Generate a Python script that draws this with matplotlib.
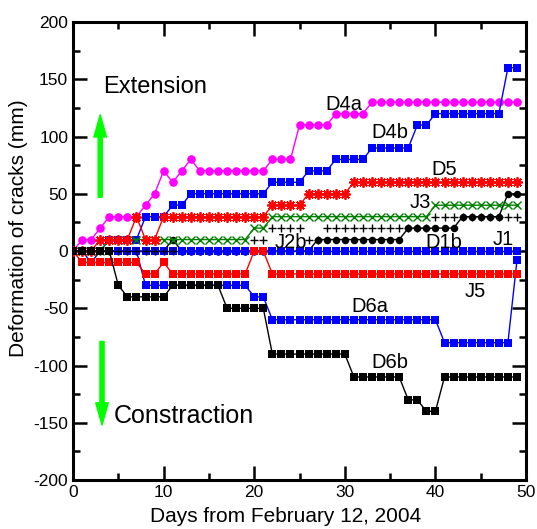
import matplotlib
matplotlib.use("Agg")
import matplotlib.pyplot as plt
from matplotlib.ticker import MultipleLocator
import numpy as np

plt.rcParams['font.family'] = ['Liberation Sans', 'DejaVu Sans']
plt.rcParams['axes.unicode_minus'] = False

days = np.arange(50)

# crack deformation (mm), one value per day
d4a = [0, 10, 10, 20, 30, 30, 30, 30, 40, 50,
       70, 60, 70, 80, 70, 70, 70, 70, 70, 70,
       70, 70, 80, 80, 80, 110, 110, 110, 110, 120,
       120, 120, 120, 130, 130, 130, 130, 130, 130, 130,
       130, 130, 130, 130, 130, 130, 130, 130, 130, 130]
d4b = [0, 0, 0, 0, 10, 10, 10, 10, 30, 30,
       30, 40, 40, 50, 50, 50, 50, 50, 50, 50,
       50, 50, 60, 60, 60, 60, 70, 70, 70, 80,
       80, 80, 80, 90, 90, 90, 90, 90, 110, 110,
       120, 120, 120, 120, 120, 120, 120, 120, 160, 160]
d5 = [0, 0, 0, 10, 10, 10, 10, 30, 10, 10,
      30, 30, 30, 30, 30, 30, 30, 30, 30, 30,
      30, 30, 40, 40, 40, 40, 50, 50, 50, 50,
      50, 60, 60, 60, 60, 60, 60, 60, 60, 60,
      60, 60, 60, 60, 60, 60, 60, 60, 60, 60]
j3 = [0, 0, 0, 0, 10, 10, 10, 10, 10, 10,
      10, 10, 10, 10, 10, 10, 10, 10, 10, 10,
      20, 20, 30, 30, 30, 30, 30, 30, 30, 30,
      30, 30, 30, 30, 30, 30, 30, 30, 30, 30,
      40, 40, 40, 40, 40, 40, 40, 40, 40, 40]
j2b = [0, 0, 0, 0, 0, 0, 0, 0, 0, 0,
       0, 0, 0, 0, 0, 0, 0, 0, 0, 0,
       10, 10, 20, 20, 20, 20, 10, 10, 20, 20,
       20, 20, 20, 20, 20, 20, 20, 20, 20, 20,
       30, 30, 30, 30, 30, 30, 30, 30, 30, 30]
d1b = [0, 0, 0, 0, 0, 0, 0, 0, 0, 0,
       0, 10, 0, 0, 0, 0, 0, 0, 0, 0,
       0, 0, 0, 0, 0, 0, 0, 10, 10, 10,
       10, 10, 10, 10, 10, 10, 10, 20, 20, 20,
       20, 20, 20, 30, 30, 30, 30, 30, 50, 50]
j1 = [0] * 50
d1a_days = [12, 13, 14, 15, 16, 17, 18, 19, 20, 21]
d1a = [0, 0, 0, 0, 0, 0, 0, 0, 0, 0]
j5 = [0, -10, -10, -10, -10, -10, -10, -10, -20, -20,
      -10, -20, -20, -20, -20, -20, -20, -20, -20, -20,
      0, 0, -20, -20, -20, -20, -20, -20, -20, -20,
      -20, -20, -20, -20, -20, -20, -20, -20, -20, -20,
      -20, -20, -20, -20, -20, -20, -20, -20, -20, -20]
d6a = [0, 0, -10, 0, 0, 0, 0, 0, -30, -30,
       -30, -30, -30, -30, -30, -30, -30, -30, -30, -30,
       -40, -40, -60, -60, -60, -60, -60, -60, -60, -60,
       -60, -60, -60, -60, -60, -60, -60, -60, -60, -60,
       -60, -80, -80, -80, -80, -80, -80, -80, -80, -8]
d6b = [0, 0, 0, 0, 0, -30, -40, -40, -40, -40,
       -40, -30, -30, -30, -30, -30, -30, -50, -50, -50,
       -50, -50, -90, -90, -90, -90, -90, -90, -90, -90,
       -90, -110, -110, -110, -110, -110, -110, -130, -130, -140,
       -140, -110, -110, -110, -110, -110, -110, -110, -110, -110]

blue = '#0000ff'
red = '#ff0000'
green = '#008000'
mag = '#ff00ff'
star = (8, 2, 0)

fig = plt.figure(figsize=(5.37, 5.29), dpi=100)
ax = fig.add_axes([0.136, 0.0926, 0.8436, 0.8658])

ax.plot(days, d1b, color='black', lw=1, marker='o', ms=5.4, mew=0, zorder=2)
ax.plot(days, d6a, color=blue, lw=1, marker='s', ms=5.5, mew=0, zorder=2.2)
ax.plot(days, j1, color=blue, lw=1, marker='s', ms=5.5, mew=0, zorder=2.3)
ax.plot(days, j2b, color='black', lw=0, marker='+', ms=6, mew=1, zorder=2.4)
ax.plot(d1a_days, d1a, color=blue, lw=1, marker='o', ms=6, mew=0, zorder=2.5)
ax.plot(days, d4a, color=mag, lw=1, marker='o', ms=6.2, mew=0, zorder=2.6)
ax.plot(days, d4b, color=blue, lw=1, marker='s', ms=5.5, mew=0, zorder=2.7)
ax.plot(days, j3, color=green, lw=1, marker='x', ms=6, mew=1, zorder=2.8)
ax.plot(days, d5, color=red, lw=1, marker=star, ms=7.5, mew=1.3, zorder=2.9)
ax.plot(days, j5, color=red, lw=1, marker='s', ms=5.5, mew=0, zorder=3.0)
ax.plot(days, d6b, color='black', lw=1, marker='s', ms=5.5, mew=0, zorder=3.1)

# green arrows
arrow = dict(arrowstyle='simple,head_length=1.6,head_width=0.9,tail_width=0.3',
             color='#00ff00', mutation_scale=10, shrinkA=0, shrinkB=0)
ax.annotate('', xy=(3, 119), xytext=(3, 47), arrowprops=arrow)
ax.annotate('', xy=(3.2, -152), xytext=(3.2, -79), arrowprops=arrow)

ax.text(3.3, 138, 'Extension', fontsize=17, ha='left', va='baseline')
ax.text(4.5, -150, 'Constraction', fontsize=18, ha='left', va='baseline')

labels = [('D4a', 27.9, 123), ('D4b', 32.9, 98.7), ('D5', 39.6, 66.4),
          ('J3', 37.1, 37.6), ('J2b', 22.2, 2.6), ('D1b', 38.9, 2.6),
          ('J1', 46.3, 5), ('J5', 43.2, -40), ('D6a', 30.7, -53.7),
          ('D6b', 32.9, -102)]
for name, x, y in labels:
    ax.text(x, y, name, fontsize=14.5, ha='left', va='baseline', zorder=5)

ax.set_xlim(0, 50)
ax.set_ylim(-200, 200)
ax.xaxis.set_major_locator(MultipleLocator(10))
ax.xaxis.set_minor_locator(MultipleLocator(5))
ax.yaxis.set_major_locator(MultipleLocator(50))
ax.yaxis.set_minor_locator(MultipleLocator(25))
ax.tick_params(which='both', direction='in', top=True, right=True, width=1.8, labelsize=12.5)
ax.tick_params(which='major', length=10)
ax.tick_params(which='minor', length=5)
for s in ax.spines.values():
    s.set_linewidth(2.2)

ax.set_xlabel('Days from February 12, 2004', fontsize=15)
ax.set_ylabel('Deformation of cracks (mm)', fontsize=15)
ax.xaxis.set_label_coords(0.47, -0.058)
ax.yaxis.set_label_coords(-0.10, 0.55)

fig.savefig('out.png', dpi=100)
